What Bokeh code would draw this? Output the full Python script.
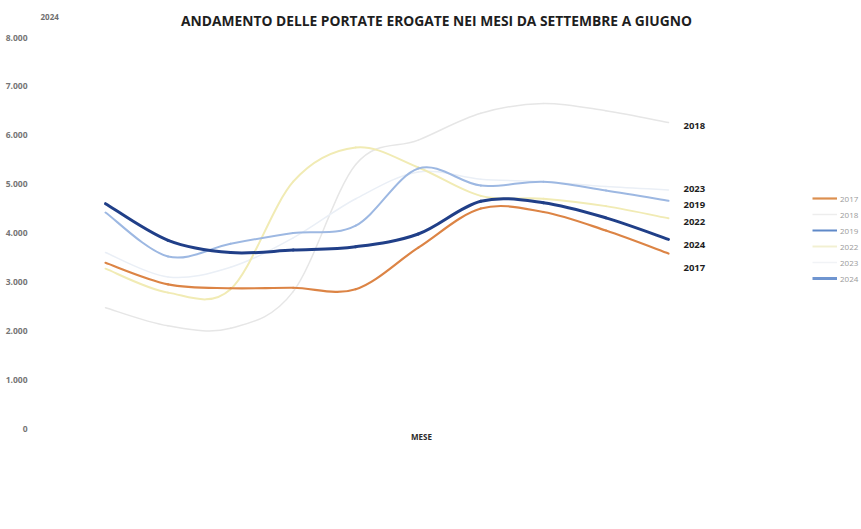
import numpy as np
from bokeh.plotting import figure
from bokeh.models import Legend, LegendItem, Label, FixedTicker, ColumnDataSource, Range1d
from bokeh.embed import file_html
from bokeh.resources import INLINE
from bokeh.core.properties import value

# ---------------- data ----------------
months = ["SET", "OTT", "NOV", "DIC", "GEN", "FEB", "MAR", "APR", "MAG", "GIU"]
years = ["2017", "2018", "2019", "2022", "2023", "2024"]
v2017 = [3390, 2950, 2870, 2880, 2850, 3700, 4500, 4430, 4050, 3580]
v2018 = [2470, 2100, 2050, 2800, 5400, 5900, 6450, 6650, 6500, 6260]
v2019 = [4420, 3520, 3780, 4000, 4150, 5320, 4970, 5050, 4870, 4660]
v2022 = [3270, 2780, 2850, 5050, 5750, 5340, 4760, 4700, 4550, 4300]
v2023 = [3600, 3100, 3300, 3900, 4700, 5250, 5100, 5050, 4950, 4880]
v2024 = [4600, 3850, 3600, 3650, 3720, 3980, 4650, 4620, 4310, 3870]
y_ticks = [0, 1000, 2000, 3000, 4000, 5000, 6000, 7000, 8000]
y_tick_labels = ["0", "1.000", "2.000", "3.000", "4.000", "5.000", "6.000", "7.000", "8.000"]
title_text = "ANDAMENTO DELLE PORTATE EROGATE NEI MESI DA SETTEMBRE A GIUGNO"
x_title = "MESE"
corner_text = "2024"

series = {"2017": v2017, "2018": v2018, "2019": v2019,
          "2022": v2022, "2023": v2023, "2024": v2024}

# ---------------- styles / layout ----------------
colors = {"2017": "#DC8445", "2018": "#E6E6E6", "2019": "#9DB8E2",
          "2022": "#F1EBB4", "2023": "#EAEFF6", "2024": "#203F88"}
legend_colors = {"2017": "#DC8F4F", "2018": "#EDEDED", "2019": "#5F89C8",
                 "2022": "#F2F0D2", "2023": "#F1F3F6", "2024": "#6F95D0"}
widths = {"2017": 2.2, "2018": 1.5, "2019": 2.0, "2022": 2.0, "2023": 1.5, "2024": 3.0}
label_dy = {"2017": 14, "2018": 3, "2019": 4, "2022": 4, "2023": -1, "2024": 6}
draw_order = ["2018", "2023", "2022", "2019", "2017", "2024"]

W, H = 861, 529
frame_left = 38
first_px, last_px = 105, 668        # screen x of first / last month
top_px, zero_px = 37, 428           # screen y of 8000 / 0
ppu = (last_px - first_px) / (len(months) - 1)
ppy = (zero_px - top_px) / y_ticks[-1]
x_start = -(first_px - frame_left) / ppu
x_end = (len(months) - 1) + (W - last_px) / ppu
y_end = y_ticks[-1] + top_px / ppy
y_start = -(H - zero_px) / ppy

p = figure(width=W, height=H, output_backend="svg", toolbar_location=None,
           x_range=Range1d(x_start, x_end), y_range=Range1d(y_start, y_end),
           min_border_left=frame_left, min_border_right=0,
           min_border_top=0, min_border_bottom=0)
p.outline_line_color = None
p.xgrid.visible = False
p.ygrid.visible = False
p.background_fill_color = "white"
p.border_fill_color = "white"
p.xaxis.visible = False

# y axis
p.yaxis.ticker = FixedTicker(ticks=y_ticks)
p.yaxis.major_label_overrides = {t: l for t, l in zip(y_ticks, y_tick_labels)}
p.yaxis.axis_line_color = None
p.yaxis.major_tick_line_color = None
p.yaxis.minor_tick_line_color = None
p.yaxis.major_label_standoff = 5
p.yaxis.major_label_text_font = "Open Sans"
p.yaxis.major_label_text_font_style = "bold"
p.yaxis.major_label_text_font_size = "8.5px"
p.yaxis.major_label_text_color = "#767676"

# smoothed lines (Bezier segments through the data points)
xs = np.arange(len(months), dtype=float)
k = 1.0 / 6.0
for yr in draw_order:
    ys = np.array(series[yr], dtype=float)
    n = len(ys)
    px = np.concatenate([[xs[0]], xs, [xs[-1]]])
    py = np.concatenate([[ys[0]], ys, [ys[-1]]])
    x0, y0, x1, y1, cx0, cy0, cx1, cy1 = [], [], [], [], [], [], [], []
    for i in range(n - 1):
        a, b, c, d = i, i + 1, i + 2, i + 3
        x0.append(px[b]); y0.append(py[b]); x1.append(px[c]); y1.append(py[c])
        cx0.append(px[b] + (px[c] - px[a]) * k); cy0.append(py[b] + (py[c] - py[a]) * k)
        cx1.append(px[c] - (px[d] - px[b]) * k); cy1.append(py[c] - (py[d] - py[b]) * k)
    p.bezier(x0=x0, y0=y0, x1=x1, y1=y1, cx0=cx0, cy0=cy0, cx1=cx1, cy1=cy1,
             line_color=colors[yr], line_width=widths[yr], line_cap="round")

# end labels
lab_src = ColumnDataSource(dict(
    x=[xs[-1]] * len(years),
    y=[series[yr][-1] for yr in years],
    text=years,
    dy=[label_dy[yr] for yr in years]))
p.text(x="x", y="y", text="text", source=lab_src, x_offset=15, y_offset="dy",
       text_font=value("Open Sans"), text_font_style="bold", text_font_size="9.5px",
       text_color="#1e1e1e", text_baseline="middle", text_align="left")

# title, axis title, corner text
p.add_layout(Label(x=(436 - first_px) / ppu, y=y_ticks[-1], y_offset=17, text=title_text,
                   text_font="Open Sans", text_font_style="bold", text_font_size="13.8px",
                   text_color="#1e1e1e", text_align="center", text_baseline="middle"))
p.add_layout(Label(x=(421 - first_px) / ppu, y=0, y_offset=-8, text=x_title,
                   text_font="Open Sans", text_font_style="bold", text_font_size="8px",
                   text_color="#2a2a2a", text_align="center", text_baseline="middle"))
p.add_layout(Label(x=x_start, y=y_ticks[-1], x_offset=2, y_offset=21, text=corner_text,
                   text_font="Open Sans", text_font_style="bold",
                   text_font_size="8px", text_color="#6f6f6f", text_baseline="middle"))

# legend (proxy renderers: one data point each, so nothing shows on the plot)
items = []
for yr in years:
    r = p.line(x=[xs[0]], y=[series[yr][0]], line_color=legend_colors[yr],
               line_width=widths[yr])
    items.append(LegendItem(label=yr, renderers=[r]))
legend = Legend(items=items, location=(812 - frame_left, H - 286), orientation="vertical",
                glyph_width=25, glyph_height=16, label_height=16, spacing=0,
                padding=0, margin=0, label_standoff=3,
                label_text_font="Open Sans", label_text_font_size="8px",
                label_text_color="#9a9a9a", border_line_alpha=0,
                background_fill_alpha=0)
p.add_layout(legend)

open("out.html", "w").write(file_html(p, INLINE))
